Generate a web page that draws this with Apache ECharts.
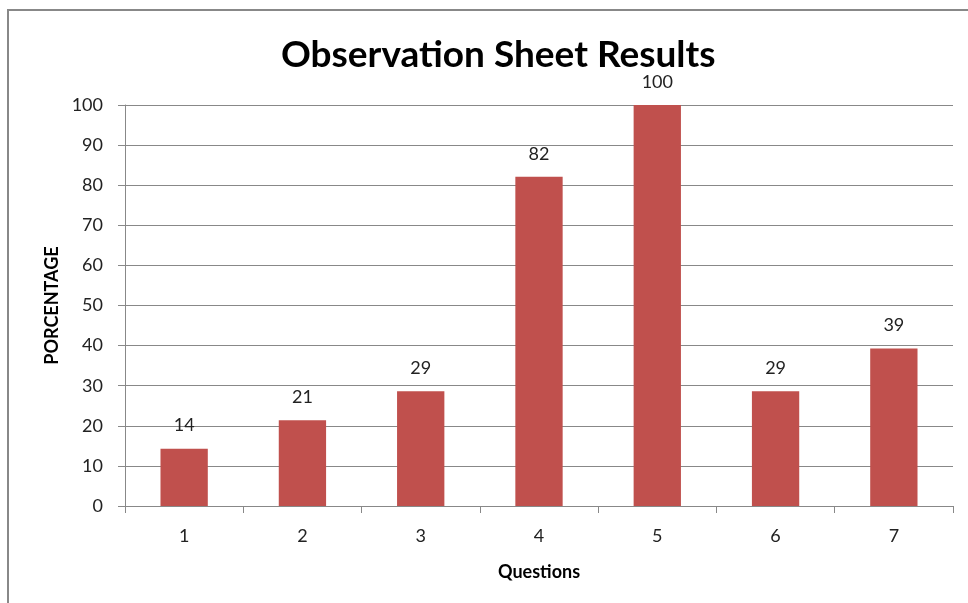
<!DOCTYPE html>
<html>
<head>
<meta charset="utf-8">
<script src="https://cdn.jsdelivr.net/npm/echarts@6/dist/echarts.min.js"></script>
<style>
    html, body { margin: 0; padding: 0; background: #fff; }
    #main { width: 968px; height: 603px; }
</style>
</head>
<body>
<div id="main"></div>
<script>
var questions = ['1', '2', '3', '4', '5', '6', '7'];
var percentages = [14.3, 21.4, 28.6, 82.1, 100, 28.6, 39.3];
var yTicks = [0, 10, 20, 30, 40, 50, 60, 70, 80, 90, 100];

var myChart = echarts.init(document.getElementById('main'));
var font = 'Lato, "Open Sans", sans-serif';
var option = {
    animation: false,
    title: {
        text: 'Observation Sheet Results',
        left: 276,
        top: 32,
        textStyle: {
            fontFamily: font,
            fontSize: 37,
            fontWeight: 'bold',
            color: '#000'
        }
    },
    graphic: [{
        type: 'rect',
        shape: { x: 8, y: 10, width: 1200, height: 800 },
        style: { fill: 'none', stroke: '#888', lineWidth: 2 },
        silent: true
    }],
    grid: {
        left: 125,
        right: 15,
        top: 105,
        bottom: 97
    },
    xAxis: {
        type: 'category',
        data: questions,
        name: 'Questions',
        nameLocation: 'middle',
        nameGap: 57,
        nameTextStyle: {
            fontFamily: font,
            fontSize: 18,
            fontWeight: 'bold',
            color: '#000'
        },
        axisLine: { lineStyle: { color: '#888' } },
        axisTick: { show: true, length: 7, lineStyle: { color: '#888' } },
        axisLabel: {
            fontFamily: font,
            fontSize: 18,
            color: '#222',
            margin: 21
        }
    },
    yAxis: {
        type: 'value',
        min: 0,
        max: 100,
        interval: 10,
        name: 'PORCENTAGE',
        nameLocation: 'middle',
        nameGap: 64,
        nameTextStyle: {
            fontFamily: font,
            fontSize: 18,
            fontWeight: 'bold',
            color: '#000'
        },
        axisLine: { show: true, lineStyle: { color: '#888' } },
        axisTick: { show: true, length: 7, lineStyle: { color: '#888' } },
        splitLine: { lineStyle: { color: '#888' } },
        axisLabel: {
            fontFamily: font,
            fontSize: 18,
            color: '#222',
            margin: 22,
            formatter: function (v) {
                return yTicks.indexOf(v) >= 0 ? String(v) : '';
            }
        }
    },
    series: [{
        type: 'bar',
        data: percentages,
        barWidth: '40%',
        itemStyle: { color: '#C0504D' },
        label: {
            show: true,
            position: 'top',
            distance: 14,
            fontFamily: font,
            fontSize: 18,
            color: '#222',
            formatter: function (p) {
                return Math.round(p.value);
            }
        }
    }]
};
myChart.setOption(option);
</script>
</body>
</html>
